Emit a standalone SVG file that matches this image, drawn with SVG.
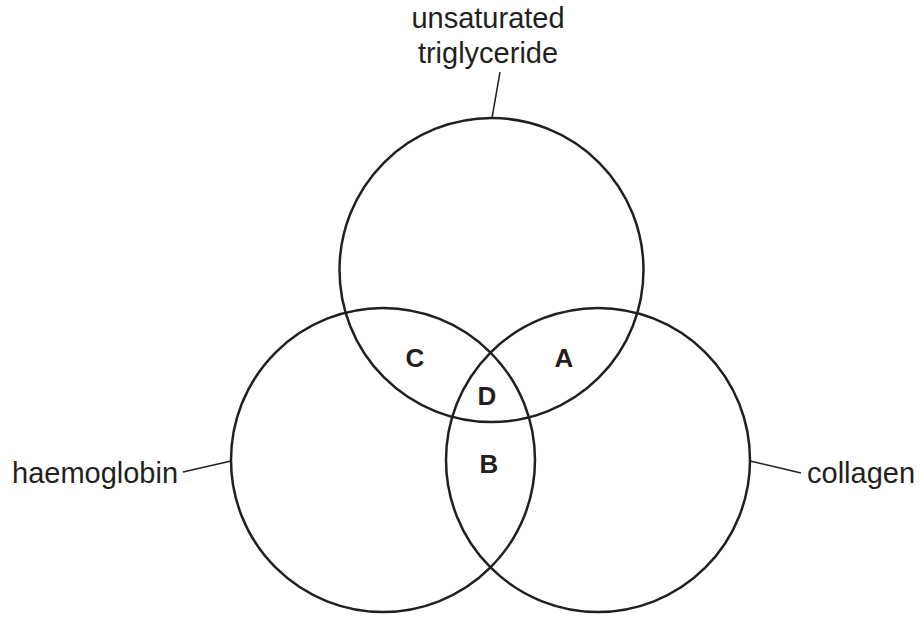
<svg xmlns="http://www.w3.org/2000/svg" width="921" height="617" viewBox="0 0 921 617">
<style>
.c{fill:none;stroke:#231f20;stroke-width:2.5}
.l{stroke:#231f20;stroke-width:1.5}
.t{font-family:"Liberation Sans",Arial,sans-serif;font-size:29px;fill:#231f20}
.b{font-family:"Liberation Sans",Arial,sans-serif;font-size:26px;font-weight:bold;fill:#231f20;text-anchor:middle}
</style>
<rect width="921" height="617" fill="#fff"/>
<g id="circle-top"><circle class="c" cx="491.5" cy="270" r="152"/></g>
<g id="circle-left"><circle class="c" cx="383" cy="460" r="152"/></g>
<g id="circle-right"><circle class="c" cx="598" cy="460" r="152"/></g>
<g id="connectors">
<line class="l" x1="500" y1="72" x2="492" y2="118"/>
<line class="l" x1="183" y1="472" x2="231" y2="461"/>
<line class="l" x1="750" y1="461" x2="801" y2="473"/>
</g>
<g id="label-triglyceride">
<text class="t" x="488" y="28" text-anchor="middle">unsaturated</text>
<text class="t" x="488" y="63" text-anchor="middle">triglyceride</text>
</g>
<g id="label-haemoglobin"><text class="t" x="12" y="483">haemoglobin</text></g>
<g id="label-collagen"><text class="t" x="807" y="483">collagen</text></g>
<g id="regions">
<text class="b" x="415" y="367">C</text>
<text class="b" x="564" y="367">A</text>
<text class="b" x="487" y="405">D</text>
<text class="b" x="489" y="473">B</text>
</g>
</svg>
